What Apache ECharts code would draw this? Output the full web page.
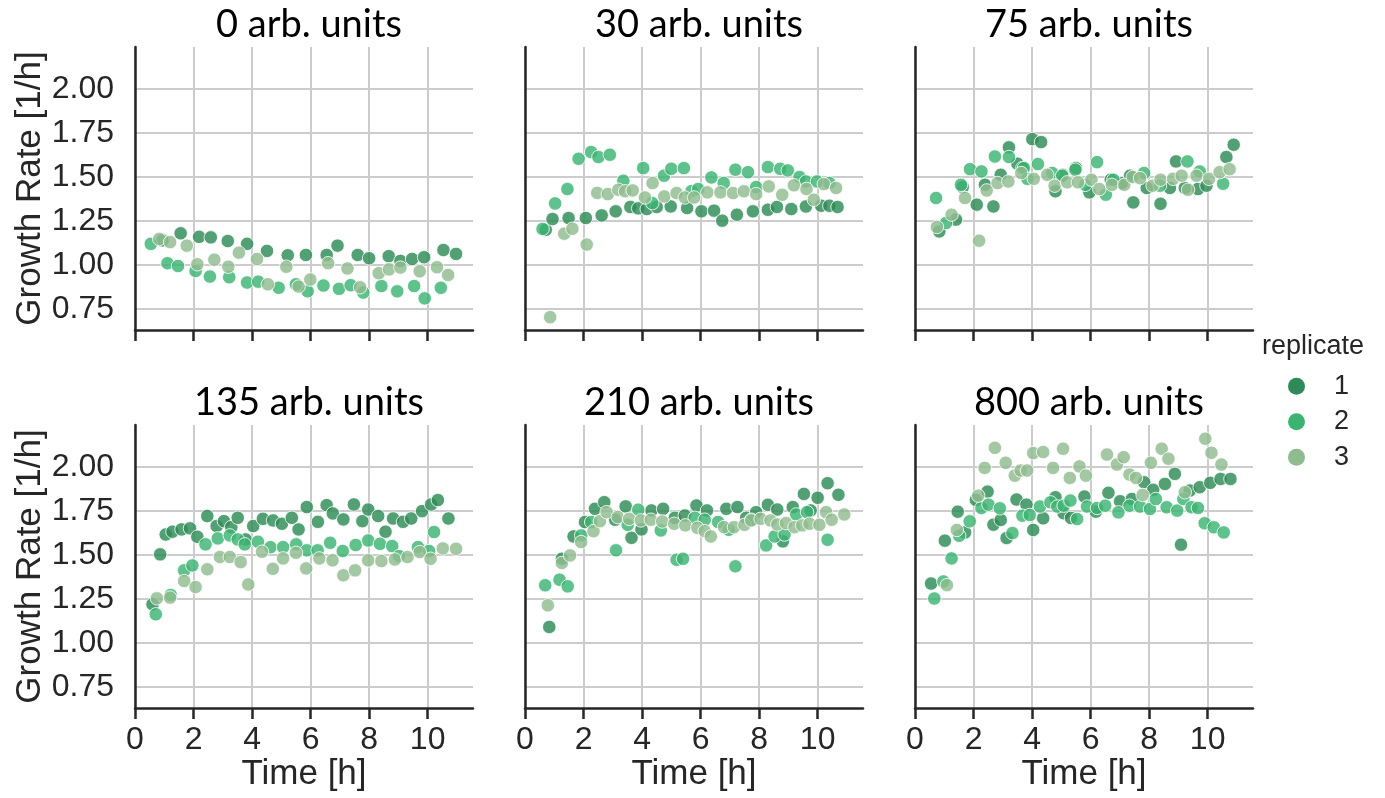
<!DOCTYPE html>
<html>
<head>
<meta charset="utf-8">
<script src="https://cdn.jsdelivr.net/npm/echarts@6/dist/echarts.min.js"></script>
<style>
  html, body { margin: 0; padding: 0; background: #ffffff; }
  #chart { width: 1385px; height: 798px; }
</style>
</head>
<body>
<div id="chart"></div>
<script>
// Facet titles (concentration per panel)
const panelTitles = ['0 arb. units', '30 arb. units', '75 arb. units',
                     '135 arb. units', '210 arb. units', '800 arb. units'];
const replicates = ['1', '2', '3'];
const replicateColors = ['#2e8b57', '#3cb371', '#8fbc8f'];
const xTicks = [0, 2, 4, 6, 8, 10];
const yTicks = [0.75, 1.00, 1.25, 1.50, 1.75, 2.00];

// [time (h), growth rate (1/h)] per panel and replicate
const p0_r1 = [[0.94,1.14],[1.56,1.18],[2.19,1.16],[2.59,1.157],[3.17,1.136],[3.83,1.12],[4.51,1.08],[5.22,1.055],[5.84,1.057],[6.55,1.057],[6.92,1.11],[7.61,1.057],[8.0,1.038],[8.67,1.05],[9.07,1.023],[9.47,1.034],[9.88,1.044],[10.54,1.085],[10.97,1.063]];
const p0_r2 = [[0.54,1.12],[1.11,1.01],[1.47,0.994],[2.07,0.966],[2.56,0.934],[3.22,0.93],[3.83,0.90],[4.21,0.905],[4.91,0.87],[5.5,0.89],[5.9,0.85],[6.44,0.883],[6.97,0.864],[7.37,0.885],[7.8,0.843],[8.42,0.88],[8.96,0.85],[9.54,0.88],[9.9,0.81],[10.45,0.87]];
const p0_r3 = [[0.83,1.148],[1.2,1.13],[1.77,1.11],[2.13,1.004],[2.71,1.03],[3.19,0.99],[3.55,1.07],[4.17,1.034],[4.54,0.89],[5.17,0.99],[5.59,0.877],[5.99,0.917],[6.6,1.01],[7.26,0.98],[7.69,0.873],[8.33,0.953],[8.68,0.975],[9.07,0.985],[9.73,0.964],[10.32,0.987],[10.7,0.943]];

const p1_r1 = [[0.71,1.2],[0.94,1.261],[1.49,1.267],[2.08,1.267],[2.62,1.282],[3.1,1.305],[3.6,1.33],[3.87,1.322],[4.16,1.318],[4.5,1.33],[4.98,1.333],[5.54,1.324],[6.03,1.305],[6.46,1.309],[6.74,1.252],[7.24,1.286],[7.79,1.305],[8.3,1.314],[8.61,1.33],[9.1,1.318],[9.6,1.333],[10.12,1.337],[10.4,1.337],[10.68,1.33]];
const p1_r2 = [[0.6,1.205],[1.03,1.35],[1.45,1.432],[1.83,1.604],[2.26,1.642],[2.51,1.614],[2.9,1.627],[3.36,1.479],[4.04,1.551],[4.35,1.352],[4.75,1.508],[5.0,1.547],[5.43,1.551],[5.69,1.42],[5.92,1.432],[6.37,1.498],[6.79,1.466],[7.19,1.542],[7.62,1.528],[7.9,1.443],[8.3,1.557],[8.72,1.547],[8.98,1.538],[9.38,1.5],[9.6,1.475],[9.98,1.475],[10.4,1.466]];
const p1_r3 = [[0.86,0.703],[1.34,1.178],[1.62,1.206],[2.11,1.116],[2.47,1.41],[2.83,1.403],[3.19,1.428],[3.42,1.419],[3.68,1.424],[4.1,1.384],[4.36,1.466],[4.76,1.39],[5.18,1.409],[5.46,1.384],[5.78,1.384],[6.23,1.413],[6.68,1.413],[7.11,1.409],[7.48,1.419],[7.9,1.403],[8.33,1.447],[8.79,1.399],[9.19,1.453],[9.62,1.432],[9.87,1.371],[10.21,1.46],[10.63,1.438]];

const p2_r1 = [[0.83,1.191],[1.4,1.258],[1.63,1.443],[2.11,1.343],[2.39,1.456],[2.68,1.333],[2.93,1.513],[3.21,1.669],[3.5,1.576],[3.67,1.551],[4.01,1.716],[4.31,1.699],[4.8,1.419],[5.05,1.513],[5.5,1.551],[5.96,1.413],[6.69,1.485],[7.07,1.466],[7.35,1.508],[7.46,1.356],[7.92,1.438],[8.39,1.348],[8.71,1.438],[8.92,1.589],[9.22,1.438],[9.67,1.432],[9.96,1.451],[10.64,1.614],[10.89,1.684]];
const p2_r2 = [[0.72,1.381],[1.06,1.239],[1.57,1.456],[1.88,1.545],[2.27,1.532],[2.73,1.617],[3.21,1.614],[3.72,1.551],[3.84,1.49],[4.2,1.574],[4.69,1.523],[5.03,1.508],[5.48,1.542],[5.82,1.456],[6.22,1.585],[6.52,1.4],[6.78,1.485],[7.83,1.523],[8.37,1.451],[9.31,1.589],[9.73,1.532],[10.53,1.462]];
const p2_r3 = [[0.75,1.216],[1.25,1.286],[1.71,1.381],[2.19,1.138],[2.45,1.424],[2.82,1.466],[3.19,1.475],[3.63,1.523],[4.06,1.49],[4.52,1.513],[4.77,1.451],[5.2,1.47],[5.57,1.47],[6.03,1.485],[6.3,1.432],[6.73,1.456],[7.15,1.456],[7.44,1.5],[7.69,1.494],[8.12,1.451],[8.39,1.485],[8.82,1.49],[9.11,1.508],[9.33,1.428],[9.62,1.508],[10.05,1.49],[10.41,1.528],[10.75,1.545]];

const p3_r1 = [[0.6,1.22],[0.86,1.504],[1.05,1.617],[1.28,1.633],[1.59,1.646],[1.88,1.652],[2.13,1.604],[2.47,1.722],[2.79,1.665],[3.04,1.693],[3.29,1.659],[3.51,1.712],[3.78,1.589],[4.04,1.665],[4.37,1.706],[4.72,1.697],[5.02,1.678],[5.36,1.712],[5.59,1.646],[5.87,1.773],[6.25,1.689],[6.55,1.784],[6.76,1.737],[7.12,1.703],[7.48,1.788],[7.77,1.693],[7.97,1.759],[8.31,1.722],[8.56,1.633],[8.82,1.708],[9.16,1.689],[9.44,1.708],[9.81,1.75],[10.12,1.788],[10.35,1.813],[10.71,1.708]];
const p3_r2 = [[0.71,1.163],[1.22,1.273],[1.68,1.413],[1.96,1.441],[2.41,1.561],[2.83,1.595],[3.24,1.612],[3.51,1.589],[3.75,1.561],[4.2,1.576],[4.63,1.545],[5.06,1.545],[5.51,1.561],[5.87,1.527],[6.24,1.527],[6.67,1.57],[7.1,1.523],[7.54,1.557],[7.97,1.583],[8.37,1.564],[8.79,1.551],[9.02,1.494],[9.67,1.545],[10.05,1.523],[10.22,1.631]];
const p3_r3 = [[0.75,1.254],[1.2,1.258],[1.68,1.352],[2.07,1.318],[2.47,1.419],[2.9,1.489],[3.24,1.489],[3.61,1.46],[3.87,1.333],[4.34,1.519],[4.71,1.422],[5.06,1.481],[5.5,1.513],[5.85,1.424],[6.3,1.481],[6.75,1.47],[7.12,1.385],[7.52,1.413],[7.97,1.47],[8.42,1.466],[8.88,1.475],[9.31,1.489],[9.73,1.517],[10.1,1.479],[10.52,1.538],[10.97,1.536]];

const p4_r1 = [[0.83,1.091],[1.26,1.479],[1.66,1.606],[2.05,1.688],[2.39,1.763],[2.71,1.801],[3.08,1.701],[3.44,1.777],[3.64,1.598],[3.98,1.646],[4.32,1.754],[4.72,1.763],[5.12,1.712],[5.46,1.725],[5.86,1.782],[6.22,1.754],[6.88,1.763],[7.26,1.773],[7.56,1.712],[7.9,1.744],[8.3,1.786],[8.62,1.759],[8.81,1.578],[9.15,1.773],[9.53,1.848],[9.76,1.754],[10.0,1.826],[10.34,1.909],[10.71,1.843]];
const p4_r2 = [[0.69,1.328],[1.18,1.36],[1.46,1.322],[1.92,1.612],[2.26,1.688],[3.11,1.527],[3.51,1.672],[3.87,1.758],[4.64,1.64],[5.18,1.473],[5.4,1.479],[5.8,1.712],[6.14,1.701],[6.6,1.688],[6.96,1.644],[7.19,1.436],[7.73,1.701],[8.24,1.555],[8.53,1.606],[8.87,1.617],[9.27,1.731],[9.64,1.744],[10.34,1.587]];
const p4_r3 = [[0.78,1.214],[1.26,1.455],[1.54,1.498],[1.92,1.574],[2.34,1.636],[2.56,1.693],[2.79,1.744],[3.17,1.716],[3.56,1.706],[3.96,1.697],[4.3,1.701],[4.69,1.691],[5.1,1.678],[5.48,1.669],[5.89,1.655],[6.14,1.636],[6.35,1.606],[6.8,1.659],[7.14,1.659],[7.5,1.672],[7.73,1.697],[8.05,1.706],[8.39,1.697],[8.62,1.674],[8.92,1.682],[9.21,1.659],[9.47,1.669],[9.72,1.678],[10.06,1.672],[10.29,1.744],[10.48,1.701],[10.91,1.731]];

const p5_r1 = [[0.55,1.338],[1.02,1.582],[1.46,1.747],[1.71,1.629],[2.08,1.814],[2.48,1.861],[2.68,1.673],[2.93,1.7],[3.13,1.597],[3.47,1.816],[3.81,1.787],[4.04,1.643],[4.38,1.709],[4.8,1.829],[5.08,1.738],[5.33,1.711],[5.79,1.833],[6.18,1.747],[6.61,1.854],[7.01,1.806],[7.41,1.819],[7.83,1.914],[8.14,1.871],[8.54,1.905],[8.88,1.962],[9.09,1.559],[9.39,1.867],[9.73,1.886],[10.09,1.911],[10.44,1.933],[10.78,1.933]];
const p5_r2 = [[0.66,1.253],[0.97,1.35],[1.25,1.481],[1.51,1.61],[1.87,1.692],[2.27,1.768],[2.51,1.787],[2.9,1.766],[3.33,1.625],[3.67,1.724],[3.92,1.728],[4.27,1.776],[4.63,1.8],[4.86,1.776],[5.08,1.781],[5.31,1.81],[5.54,1.705],[5.88,1.776],[6.22,1.768],[6.5,1.781],[6.95,1.743],[7.33,1.781],[7.69,1.776],[8.03,1.762],[8.23,1.819],[8.6,1.772],[8.96,1.753],[9.17,1.819],[9.45,1.772],[9.67,1.768],[9.9,1.681],[10.21,1.658],[10.55,1.629]];
const p5_r3 = [[1.09,1.329],[1.43,1.643],[2.16,1.838],[2.38,1.996],[2.73,2.11],[3.1,2.025],[3.41,1.952],[3.61,1.981],[3.83,1.981],[4.04,2.08],[4.38,2.086],[4.72,1.996],[5.06,2.105],[5.29,1.939],[5.62,2.004],[5.84,1.952],[6.56,2.072],[6.9,2.015],[7.13,2.057],[7.33,1.958],[7.55,1.939],[7.78,1.842],[8.06,2.025],[8.43,2.105],[8.66,2.048],[9.22,1.857],[9.92,2.162],[10.13,2.082],[10.47,2.015]];

const panelData = [
  [p0_r1, p0_r2, p0_r3],
  [p1_r1, p1_r2, p1_r3],
  [p2_r1, p2_r2, p2_r3],
  [p3_r1, p3_r2, p3_r3],
  [p4_r1, p4_r2, p4_r3],
  [p5_r1, p5_r2, p5_r3]
];

// Facet geometry (pixels)
const colLeft = [135, 525, 915];
const rowTop = [47, 425];
const panelW = 338;
const panelH = 283;

const tickFont = 'Liberation Sans, Arial, sans-serif';
const titleFont = 'Lato, Noto Sans, sans-serif';
const ink = '#262626';

const grids = [], xAxes = [], yAxes = [], series = [], titles = [];

panelTitles.forEach((name, i) => {
  const col = i % 3, row = Math.floor(i / 3);
  const isBottom = row === 1, isLeft = col === 0;
  grids.push({ left: colLeft[col], top: rowTop[row], width: panelW, height: panelH });
  titles.push({
    text: name,
    left: colLeft[col] + panelW / 2,
    top: rowTop[row] - 46,
    textAlign: 'center',
    textStyle: { fontFamily: titleFont, fontSize: 38, fontWeight: 'normal', color: '#000' }
  });
  xAxes.push({
    gridIndex: i, type: 'value', min: 0, max: 11.55,
    axisLine: { show: true, onZero: false, lineStyle: { color: ink, width: 2.5 } },
    axisTick: { show: true, length: 11, customValues: xTicks, lineStyle: { color: ink, width: 2.5 } },
    axisLabel: { show: isBottom, customValues: xTicks, margin: 16, fontFamily: tickFont, fontSize: 32, color: ink },
    splitLine: { show: true, lineStyle: { color: '#cccccc', width: 2 } },
    name: isBottom ? 'Time [h]' : '',
    nameLocation: 'middle', nameGap: 49,
    nameTextStyle: { fontFamily: tickFont, fontSize: 35, color: ink }
  });
  yAxes.push({
    gridIndex: i, type: 'value', min: 0.63, max: 2.24,
    axisLine: { show: true, onZero: false, lineStyle: { color: ink, width: 2.5 } },
    axisTick: { show: false, customValues: yTicks },
    axisLabel: { show: isLeft, customValues: yTicks, margin: 21, fontFamily: tickFont, fontSize: 32, color: ink,
                 formatter: v => v.toFixed(2) },
    splitLine: { show: true, lineStyle: { color: '#cccccc', width: 2 } },
    name: isLeft ? 'Growth Rate [1/h]' : '',
    nameLocation: 'middle', nameGap: 87,
    nameTextStyle: { fontFamily: tickFont, fontSize: 35, color: ink }
  });
  panelData[i].forEach((pts, r) => {
    series.push({
      type: 'scatter', name: replicates[r], xAxisIndex: i, yAxisIndex: i,
      data: pts, symbol: 'circle', symbolSize: 13.5,
      itemStyle: { color: replicateColors[r], opacity: 0.82, borderColor: '#ffffff', borderWidth: 1 },
      emphasis: { disabled: true }
    });
  });
});

const chart = echarts.init(document.getElementById('chart'), null, { renderer: 'canvas' });
chart.setOption({
  animation: false,
  backgroundColor: '#ffffff',
  title: titles,
  grid: grids,
  xAxis: xAxes,
  yAxis: yAxes,
  series: series,
  legend: {
    orient: 'vertical', left: 1283, top: 366,
    data: replicates.map((r, k) => ({ name: r, icon: 'circle', itemStyle: { color: replicateColors[k], opacity: 1, borderWidth: 0 } })),
    itemWidth: 17, itemHeight: 17, itemGap: 5,
    selectedMode: false,
    textStyle: { fontFamily: tickFont, fontSize: 27, color: ink, lineHeight: 30.5, padding: [0, 0, 0, 24] }
  },
  graphic: [{
    type: 'text', left: 1262, top: 333,
    style: { text: 'replicate', font: '27px "Liberation Sans", Arial, sans-serif', fill: ink }
  }]
});
</script>
</body>
</html>
